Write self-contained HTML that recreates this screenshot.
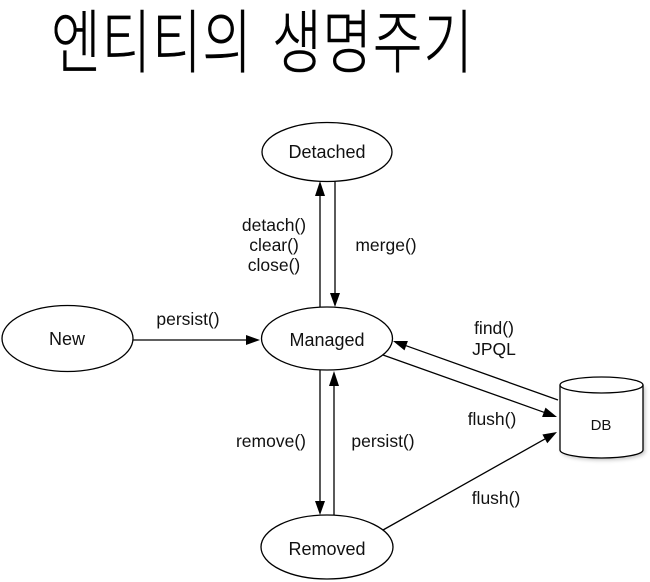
<!DOCTYPE html>
<html><head><meta charset="utf-8">
<style>
html,body{margin:0;padding:0;background:#fff;}
svg{display:block;}
</style></head>
<body>
<svg width="650" height="582" viewBox="0 0 650 582" xmlns="http://www.w3.org/2000/svg">
<defs>
<filter id="sh" x="-20%" y="-20%" width="140%" height="140%">
<feGaussianBlur stdDeviation="2"/>
</filter>
</defs>
<rect width="650" height="582" fill="#fff"/>
<!-- Title -->
<g font-family="'Noto Sans CJK KR','NanumGothic',sans-serif" font-size="54" font-weight="300" fill="#000" stroke="#000" stroke-width="0.4">
<text transform="translate(51,67) scale(1,1.28)" x="0" y="0" textLength="201" lengthAdjust="spacing">엔티티의</text>
<text transform="translate(272,67) scale(1,1.28)" x="0" y="0" textLength="201" lengthAdjust="spacing">생명주기</text>
</g>

<g fill="none" stroke="#000" stroke-width="1.3">
<!-- nodes -->
<ellipse cx="327" cy="152" rx="65" ry="29.5"/>
<ellipse cx="327" cy="338.5" rx="65.5" ry="31.5"/>
<ellipse cx="327" cy="547" rx="66" ry="32"/>
<ellipse cx="67.5" cy="338.5" rx="65.5" ry="33"/>
<!-- lines -->
<line x1="320" y1="307" x2="320" y2="195"/>
<line x1="335" y1="181" x2="335" y2="294"/>
<line x1="133" y1="340" x2="247" y2="340"/>
<line x1="320" y1="370" x2="320" y2="502"/>
<line x1="334" y1="515" x2="334" y2="385"/>
<line x1="558" y1="400" x2="406" y2="345.7"/>
<line x1="383" y1="355" x2="544" y2="412.3"/>
<line x1="383" y1="530" x2="545" y2="438.9"/>
</g>
<g fill="#000">
<polygon points="320,181 315,196 325,196"/>
<polygon points="335,307 330,293 340,293"/>
<polygon points="260,340 246,335 246,345"/>
<polygon points="320,515 315,501 325,501"/>
<polygon points="334,371 329,386 339,386"/>
<polygon points="393,341 407.9,341 404.5,350.4"/>
<polygon points="557,417 542.1,417 545.5,407.6"/>
<polygon points="557,432 547.3,443.3 542.4,434.5"/>
</g>

<!-- DB cylinder -->
<path d="M562 387 L562 452 A41.5 8 0 0 0 645 452 L645 387 Z" fill="#000" opacity="0.25" filter="url(#sh)"/>
<path d="M560 385 L560 450 A41.5 8 0 0 0 643 450 L643 385" fill="#fff" stroke="#000" stroke-width="1.3"/>
<ellipse cx="601.5" cy="385" rx="41.5" ry="8" fill="#fff" stroke="#000" stroke-width="1.3"/>

<!-- labels -->
<g font-family="'Liberation Sans',Arial,sans-serif" fill="#111" text-anchor="middle">
<text x="327" y="158" font-size="18">Detached</text>
<text x="327" y="346" font-size="18">Managed</text>
<text x="327" y="555" font-size="18">Removed</text>
<text x="67" y="345" font-size="18">New</text>
<text x="601" y="430" font-size="15">DB</text>

<text x="274" y="231" font-size="17.5">detach()</text>
<text x="274" y="251" font-size="17.5">clear()</text>
<text x="274" y="271" font-size="17.5">close()</text>
<text x="386" y="251" font-size="17.5">merge()</text>
<text x="188" y="325" font-size="17.5">persist()</text>
<text x="494" y="334" font-size="17.5">find()</text>
<text x="494" y="355" font-size="17.5">JPQL</text>
<text x="492" y="425" font-size="17.5">flush()</text>
<text x="496" y="504" font-size="17.5">flush()</text>
<text x="271" y="447" font-size="17.5">remove()</text>
<text x="383" y="447" font-size="17.5">persist()</text>
</g>
</svg>
</body></html>
